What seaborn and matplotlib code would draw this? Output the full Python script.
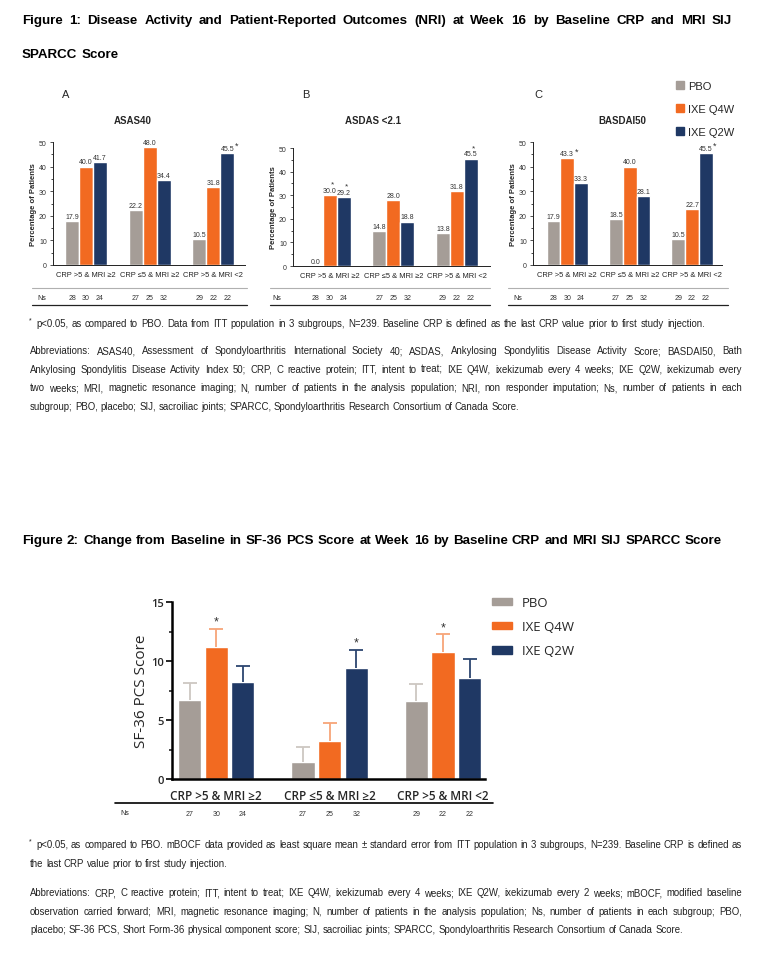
import numpy as np
import pandas as pd
import matplotlib
matplotlib.use("Agg")
import matplotlib.pyplot as plt
import seaborn as sns
from matplotlib.patches import Patch
from matplotlib.lines import Line2D
from matplotlib.ticker import MultipleLocator

# Données
groupes = ["CRP >5 & MRI ≥2", "CRP ≤5 & MRI ≥2", "CRP >5 & MRI <2"]
bras = ["PBO", "IXE Q4W", "IXE Q2W"]
couleurs = ["#a59d97", "#f26a21", "#1f3864"]
couleurs_err = ["#cdc7c2", "#f7a578", "#2c4570"]

# une liste par bras : [groupe1, groupe2, groupe3]
asas40 = [[17.9, 22.2, 10.5], [40.0, 48.0, 31.8], [41.7, 34.4, 45.5]]
asas40_sig = [[0, 0, 0], [0, 0, 0], [0, 0, 1]]
asdas = [[0.0, 14.8, 13.8], [30.0, 28.0, 31.8], [29.2, 18.8, 45.5]]
asdas_sig = [[0, 0, 0], [1, 0, 0], [1, 0, 1]]
basdai50 = [[17.9, 18.5, 10.5], [43.3, 40.0, 22.7], [33.3, 28.1, 45.5]]
basdai50_sig = [[0, 0, 0], [1, 0, 0], [0, 0, 1]]
ns_fig1 = [[28, 27, 29], [30, 25, 22], [24, 32, 22]]

sf36_moy = [[6.7, 1.4, 6.6], [11.2, 3.2, 10.8], [8.2, 9.4, 8.6]]
sf36_se = [[1.45, 1.35, 1.45], [1.55, 1.55, 1.45], [1.35, 1.55, 1.6]]
sf36_sig = [[0, 0, 0], [1, 0, 1], [0, 1, 0]]
ns_fig2 = [[27, 27, 29], [30, 25, 22], [24, 32, 22]]

W, H = 782, 954
POLICE = ["Liberation Sans", "DejaVu Sans"]
OPEN = ["Open Sans", "DejaVu Sans"]

sns.set_style("white")
plt.rcParams["font.family"] = POLICE

fig = plt.figure(figsize=(W / 100, H / 100), dpi=100)
fig.patch.set_facecolor("white")
rend = fig.canvas.get_renderer()


def axes_px(x0, y0, x1, y1):
    return fig.add_axes([x0 / W, 1 - y1 / H, (x1 - x0) / W, (y1 - y0) / H])


def ligne_px(x0, x1, y, couleur="black", lw=1.0):
    fig.add_artist(Line2D([x0 / W, x1 / W], [1 - y / H] * 2, transform=fig.transFigure,
                          color=couleur, lw=lw))


def texte_ligne(s, x0, y, x1=None, taille=7, poids="normal", famille=POLICE, couleur="#222222"):
    # place les mots un par un, justifiés si x1 est donné
    mots = s.split(" ")
    ts = [fig.text(0, 1 - y / H, m, fontsize=taille, fontweight=poids, family=famille,
                   va="center", ha="left", color=couleur) for m in mots]
    larg = [t.get_window_extent(rend).width for t in ts]
    if x1 is None or len(mots) == 1:
        esp = taille * 100 / 72 * 0.28
    else:
        esp = (x1 - x0 - sum(larg)) / (len(mots) - 1)
    x = x0
    for t, l in zip(ts, larg):
        t.set_x(x / W)
        x += l + esp


def table_longue(vals):
    return pd.DataFrame({"groupe": groupes * 3,
                         "bras": np.repeat(bras, 3),
                         "valeur": np.ravel(vals)})


def panneau(ax, vals, sig, etoile_dessus, xlim):
    sns.barplot(data=table_longue(vals), x="groupe", y="valeur", hue="bras",
                order=groupes, hue_order=bras, palette=couleurs, saturation=1,
                width=0.66, gap=0, errorbar=None, legend=False, ax=ax)
    ax.set_xlim(*xlim)
    ax.set_ylim(0, 50)
    ax.yaxis.set_major_locator(MultipleLocator(10))
    ax.yaxis.set_minor_locator(MultipleLocator(5))
    ax.tick_params(axis="y", which="major", labelsize=5, length=2.5, width=0.6, left=True,
                   colors="#333333", pad=2)
    ax.tick_params(axis="y", which="minor", length=1.5, width=0.6, left=True)
    ax.tick_params(axis="x", length=0, labelsize=5.4, pad=4, labelcolor="#222222")
    ax.set_xlabel("")
    ax.set_ylabel("Percentage of Patients", fontsize=5.5, fontweight="bold")
    larg = ax.get_position().width * W
    ax.yaxis.set_label_coords(-16 / larg, 0.5)
    for s in ["top", "right"]:
        ax.spines[s].set_visible(False)
    for s in ["left", "bottom"]:
        ax.spines[s].set_color("#222222")
        ax.spines[s].set_linewidth(0.7)
    barres = list(ax.containers)
    for j, cont in enumerate(barres):
        for k, p in enumerate(cont):
            cx = p.get_x() + p.get_width() / 2
            h = p.get_height()
            ax.text(cx, h + 0.5, f"{h:.1f}", ha="center", va="bottom", fontsize=5,
                    color="#333333")
            if sig[j][k]:
                if etoile_dessus:
                    ax.text(cx + 0.04, h + 3.2, "*", ha="center", va="bottom", fontsize=6,
                            color="#333333")
                else:
                    ax.text(cx + 0.12, h + 1.2, "*", ha="left", va="bottom", fontsize=6.5,
                            color="#333333")
    return barres


def rangee_ns(ax, barres, box, ns, xa, xb, x_ns):
    ligne_px(xa, xb, 289, couleur="#b0b0b0", lw=0.8)
    ligne_px(xa, xb, 306, couleur="#222222", lw=0.9)
    fig.text(x_ns / W, 1 - 298 / H, "Ns", fontsize=5, va="center", ha="left")
    y_ax = 1 - (298 - box[1]) / (box[3] - box[1])
    for j, cont in enumerate(barres):
        for k, p in enumerate(cont):
            cx = p.get_x() + p.get_width() / 2
            ax.text(cx, y_ax, str(ns[j][k]), transform=ax.get_xaxis_transform(),
                    ha="center", va="center", fontsize=5, color="#333333")


# ---------------- Figure 1 ----------------
TT = 9.6
texte_ligne("Figure 1: Disease Activity and Patient-Reported Outcomes (NRI) at Week 16 by Baseline CRP and MRI SIJ",
            22, 21, 732, taille=TT, poids="bold", couleur="black")
texte_ligne("SPARCC Score", 22, 55, taille=TT, poids="bold", couleur="black")

specs = [
    ("A", "ASAS40", asas40, asas40_sig, False, (53, 143, 245, 266), (-0.52, 2.5), 62, 133, 32, 247, 37),
    ("B", "ASDAS <2.1", asdas, asdas_sig, True, (293, 149, 490, 267), (-0.58, 2.52), 302, 373, 270, 490, 272),
    ("C", "BASDAI50", basdai50, basdai50_sig, False, (533, 143, 722, 266), (-0.55, 2.48), 534, 622, 508, 728, 513),
]
for lettre, titre, vals, sig, dessus, box, xlim, x_lettre, x_titre, xa, xb, x_ns in specs:
    ax = axes_px(*box)
    barres = panneau(ax, vals, sig, dessus, xlim)
    fig.text(x_lettre / W, 1 - 95 / H, lettre, fontsize=8, ha="left", va="center")
    fig.text(x_titre / W, 1 - 121 / H, titre, fontsize=7, fontweight="bold", ha="center",
             va="center")
    rangee_ns(ax, barres, box, ns_fig1, xa, xb, x_ns)

fig.legend(handles=[Patch(color=c) for c in couleurs], labels=bras, loc="upper left",
           bbox_to_anchor=(676 / W, 1 - 82 / H), frameon=False,
           handlelength=0.7, handleheight=0.7, handletextpad=0.4, labelspacing=1.15,
           borderaxespad=0, borderpad=0, prop={"family": POLICE, "size": 8})

# notes figure 1
T = 6.9
texte_ligne("*", 29, 321, taille=5)
texte_ligne("p<0.05, as compared to PBO. Data from ITT population in 3 subgroups, N=239. Baseline CRP is defined as the last CRP value prior to first study injection.",
            36, 324, 705, taille=T)
notes1 = [
    "Abbreviations: ASAS40, Assessment of Spondyloarthritis International Society 40; ASDAS, Ankylosing Spondylitis Disease Activity Score; BASDAI50, Bath",
    "Ankylosing Spondylitis Disease Activity Index 50; CRP, C reactive protein; ITT, intent to treat; IXE Q4W, ixekizumab every 4 weeks; IXE Q2W, ixekizumab every",
    "two weeks; MRI, magnetic resonance imaging; N, number of patients in the analysis population; NRI, non responder imputation; Ns, number of patients in each",
]
for i, s in enumerate(notes1):
    texte_ligne(s, 30, 351 + 18.7 * i, 742, taille=T)
texte_ligne("subgroup; PBO, placebo; SIJ, sacroiliac joints; SPARCC, Spondyloarthritis Research Consortium of Canada Score.",
            30, 407, taille=T)

# ---------------- Figure 2 ----------------
texte_ligne("Figure 2: Change from Baseline in SF-36 PCS Score at Week 16 by Baseline CRP and MRI SIJ SPARCC Score",
            22, 541, 722, taille=TT, poids="bold", couleur="black")

box2 = (172, 603, 485, 780)
ax2 = axes_px(*box2)
sns.barplot(data=table_longue(sf36_moy), x="groupe", y="valeur", hue="bras",
            order=groupes, hue_order=bras, palette=couleurs, saturation=1,
            width=0.705, gap=0.13, errorbar=None, legend=False, ax=ax2)
barres2 = list(ax2.containers)
ax2.set_xlim(-0.39, 2.37)
ax2.set_ylim(0, 15)
ax2.yaxis.set_major_locator(MultipleLocator(5))
ax2.yaxis.set_minor_locator(MultipleLocator(2.5))
ax2.tick_params(axis="y", which="major", labelsize=8, length=4, width=1.4, left=True, pad=2)
ax2.tick_params(axis="y", which="minor", length=2.5, width=1.2, left=True)
ax2.tick_params(axis="x", length=0, pad=7)
for lab in ax2.get_xticklabels():
    lab.set_fontsize(8.5)
    lab.set_family(OPEN)
    lab.set_fontweight("semibold")
for lab in ax2.get_yticklabels():
    lab.set_family(OPEN)
    lab.set_fontweight("semibold")
ax2.set_xlabel("")
ax2.set_ylabel("SF-36 PCS Score", fontsize=11, family=OPEN)
ax2.yaxis.set_label_coords(-(172 - 149) / (485 - 172), 0.5)
for s in ["top", "right"]:
    ax2.spines[s].set_visible(False)
for s in ["left", "bottom"]:
    ax2.spines[s].set_linewidth(1.8)
    ax2.spines[s].set_color("black")

y_ns2 = 1 - (814 - box2[1]) / (box2[3] - box2[1])
for j, cont in enumerate(barres2):
    for k, p in enumerate(cont):
        cx = p.get_x() + p.get_width() / 2
        h = p.get_height()
        se = sf36_se[j][k]
        eb = ax2.errorbar(cx, h, yerr=[[0], [se]], color=couleurs_err[j], capsize=5,
                          elinewidth=1.3, capthick=1.3, fmt="none", zorder=1)
        for cap in eb[1]:
            if np.allclose(cap.get_ydata(), h):
                cap.set_visible(False)
        if sf36_sig[j][k]:
            ax2.text(cx, h + se + 0.1, "*", ha="center", va="bottom", fontsize=9,
                     color="#333333")
        ax2.text(cx, y_ns2, str(ns_fig2[j][k]), transform=ax2.get_xaxis_transform(),
                 ha="center", va="center", fontsize=5, color="#333333")

ligne_px(115, 493, 804, couleur="black", lw=1.2)
fig.text(120 / W, 1 - 814 / H, "Ns", fontsize=5, va="center", ha="left")

fig.legend(handles=[Patch(color=c) for c in couleurs], labels=bras, loc="upper left",
           bbox_to_anchor=(492 / W, 1 - 597 / H), frameon=False,
           handlelength=1.5, handleheight=0.5, handletextpad=0.75, labelspacing=0.85,
           borderaxespad=0, borderpad=0, prop={"family": OPEN, "size": 9.5})

# notes figure 2
texte_ligne("*", 29, 842, taille=5)
texte_ligne("p<0.05, as compared to PBO. mBOCF data provided as least square mean ± standard error from ITT population in 3 subgroups, N=239. Baseline CRP is defined as",
            36, 845, 742, taille=T)
texte_ligne("the last CRP value prior to first study injection.", 30, 864, taille=T)
notes2 = [
    "Abbreviations: CRP, C reactive protein; ITT, intent to treat; IXE Q4W, ixekizumab every 4 weeks; IXE Q2W, ixekizumab every 2 weeks; mBOCF, modified baseline",
    "observation carried forward; MRI, magnetic resonance imaging; N, number of patients in the analysis population; Ns, number of patients in each subgroup; PBO,",
]
for i, s in enumerate(notes2):
    texte_ligne(s, 30, 893 + 18.7 * i, 742, taille=T)
texte_ligne("placebo; SF-36 PCS, Short Form-36 physical component score; SIJ, sacroiliac joints; SPARCC, Spondyloarthritis Research Consortium of Canada Score.",
            30, 930, taille=T)

fig.savefig("out.png", dpi=100)
